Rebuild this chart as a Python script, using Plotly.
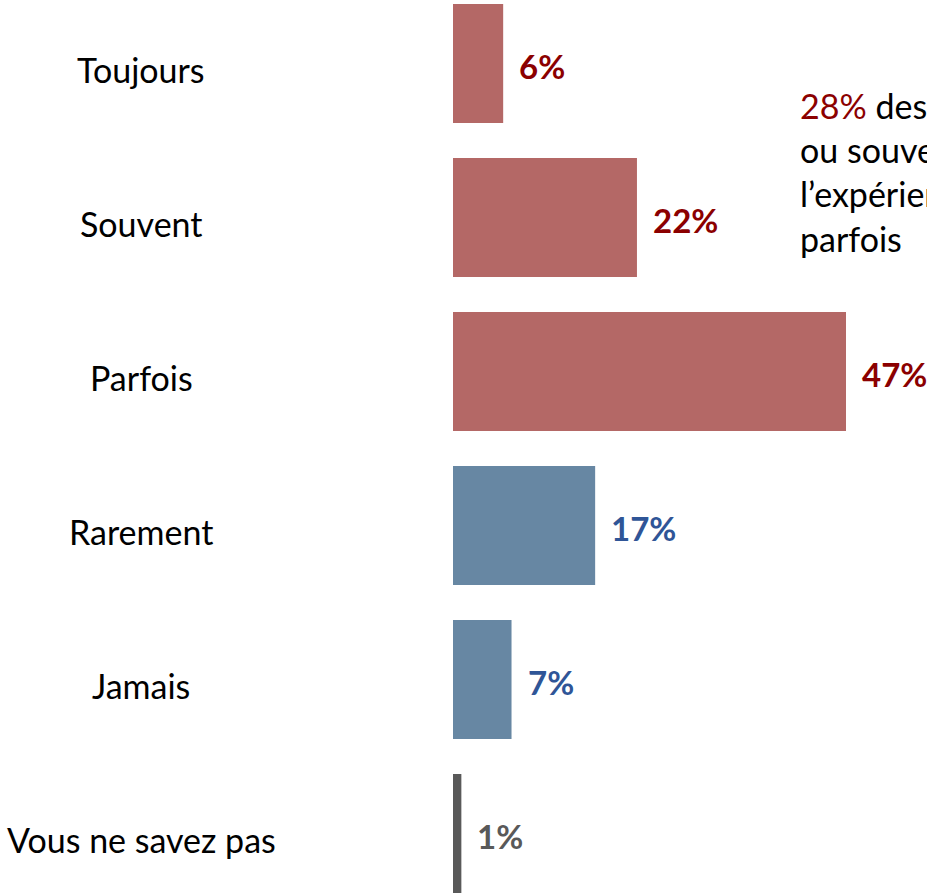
import plotly.graph_objects as go

categories = ["Toujours", "Souvent", "Parfois", "Rarement", "Jamais", "Vous ne savez pas"]
values = [6, 22, 47, 17, 7, 1]
bar_colors = ["#B46866", "#B46866", "#B46866", "#6787A3", "#6787A3", "#595959"]
label_colors = ["#8B0000", "#8B0000", "#8B0000", "#2F5597", "#2F5597", "#595959"]
value_labels = [f"{v}%" for v in values]

FONT = "Lato"
W, H = 927, 893

fig = go.Figure()
fig.add_trace(go.Bar(
    x=values, y=categories, orientation="h",
    marker=dict(color=bar_colors, line=dict(width=0)),
    width=0.773, hoverinfo="skip",
))

px_per = 393 / 47.0
x0 = -453 / px_per
x1 = (W - 453) / px_per
pitch = 154.0
ylo = 5 + (H - 833.5) / pitch
yhi = -63.5 / pitch

fig.update_layout(
    width=W, height=H,
    margin=dict(l=0, r=0, t=0, b=0, pad=0, autoexpand=False),
    paper_bgcolor="white", plot_bgcolor="white",
    showlegend=False,
    xaxis=dict(range=[x0, x1], visible=False),
    yaxis=dict(type="category", categoryorder="array", categoryarray=categories,
               range=[ylo, yhi], visible=False),
)

annotations = []
for c, v, lab, col in zip(categories, values, value_labels, label_colors):
    annotations.append(dict(x=v, y=c, xref="x", yref="y", text=f"<b>{lab}</b>",
                            showarrow=False, xanchor="left", xshift=14, yshift=-2,
                            font=dict(family=FONT, size=33, color=col)))
    annotations.append(dict(x=141 / W, y=c, xref="paper", yref="y", text=c,
                            showarrow=False, xanchor="center", yshift=-6,
                            font=dict(family=FONT, size=34, color="black")))

annotations.append(dict(
    x=798 / W, y=1 - 83 / H, xref="paper", yref="paper", xanchor="left", yanchor="top",
    align="left", showarrow=False,
    text=("<span style='color:#8B0000'>28%</span> des répondants<br>"
          "ou souvent en font<br>l’expérience, 47%<br>parfois"),
    font=dict(family=FONT, size=34, color="black"),
))
fig.update_layout(annotations=annotations)

fig.write_html("out.html", config={"displayModeBar": False, "staticPlot": True},
               post_script="document.body.style.margin='0';")
